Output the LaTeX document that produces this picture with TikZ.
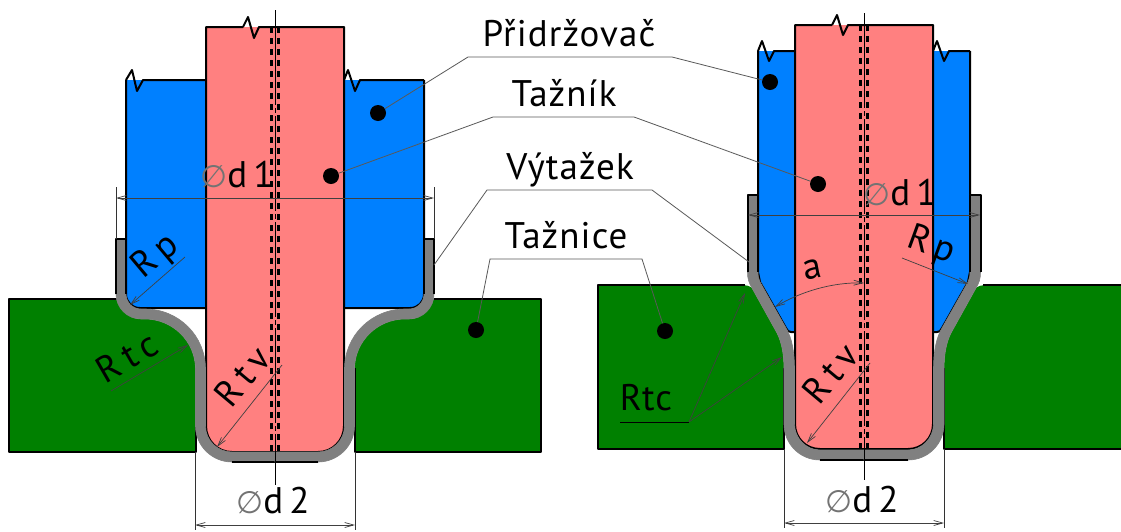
\documentclass[tikz,border=0pt]{standalone}
\usepackage{fontspec}
\setmainfont{PT Sans}[LetterSpace=3]
\newfontfamily\symfont{DejaVu Sans}
\usetikzlibrary{arrows.meta,positioning}
\definecolor{holderblue}{RGB}{0,128,255}
\definecolor{punchpink}{RGB}{255,128,128}
\definecolor{diegreen}{RGB}{0,128,0}
\definecolor{sheetgrey}{RGB}{128,128,128}
\newcommand{\dia}{{\color{black!55}\symfont\fontsize{31}{32}\selectfont ∅}}

\begin{document}
\begin{tikzpicture}[
    x=1pt, y=-1pt,
    txt/.style={font=\fontsize{37}{40}\selectfont, inner sep=0pt, anchor=base},
    rtxt/.style={font=\fontsize{37}{40}\selectfont, inner sep=0pt},
    tag/.style={circle, fill=black, minimum size=16pt, inner sep=0pt},
    leader/.style={draw=black!65, line width=0.8pt},
    dimline/.style={draw=black!75, line width=0.7pt, {Straight Barb[length=9pt,width=5pt]}-{Straight Barb[length=9pt,width=5pt]}},
    radline/.style={draw=black!75, line width=0.7pt, -{Straight Barb[length=9pt,width=5pt]}},
    extline/.style={draw=black!80, line width=0.7pt},
    outline/.style={draw=black, line width=2pt, line join=round},
    sheet/.style={fill=sheetgrey, draw=sheetgrey, line width=0.6pt},
    axisline/.style={draw=black, line width=0.7pt, dash pattern=on 95pt off 3pt on 5pt off 3pt},
    hiddenedge/.style={draw=black, line width=3pt, dash pattern=on 6pt off 5pt}
]
\clip (0,0) rectangle (1121,531);
\fill[white] (0,0) rectangle (1121,531);

% left tool: holder, die, both sides
\foreach \off/\sc in {0/1,550/-1} {
\begin{scope}[shift={(\off,0)}, xscale=\sc]
\fill[holderblue] (126,80) -- (206,80) -- (206,308) -- (140,308) .. controls (132,308) and (126,302) .. (126,294) -- cycle;
\draw[outline] (206,308) -- (140,308) .. controls (132,308) and (126,302) .. (126,294) -- (126,80);
\fill[diegreen] (9,299) -- (116.5,299) .. controls (120,310) and (130,319) .. (141,319) -- (145,319) .. controls (172.6,319) and (195.5,341.4) .. (195.5,369) -- (195.5,452) -- (9,452) -- cycle;
\draw[outline] (116.5,299) -- (9,299) -- (9,452) -- (195.5,452) -- (195.5,368);
\end{scope}
}
\draw[outline] (126,80) -- (132,70) -- (137,91) -- (143,80) -- (206,80);
\draw[outline] (344,80) -- (348,70) -- (355,91) -- (360,80) -- (424,80);

% left punch
\fill[punchpink] (206,27) -- (344,27) -- (344,426) .. controls (344,440.4) and (332.4,452) .. (318,452) -- (232,452) .. controls (217.6,452) and (206,440.4) .. (206,426) -- cycle;
\draw[outline] (243,27) -- (248,17) -- (254,38) -- (259,27) -- (344,27) -- (344,426) .. controls (344,440.4) and (332.4,452) .. (318,452) -- (232,452) .. controls (217.6,452) and (206,440.4) .. (206,426) -- (206,27) -- (243,27);

\foreach \off/\sc in {0/1,550/-1} {
\begin{scope}[shift={(\off,0)}, xscale=\sc]
\path[sheet] (116,239) -- (116,294) .. controls (116,307.8) and (127.2,319) .. (141,319) -- (145,319) .. controls (172.6,319) and (195.5,341.4) .. (195.5,369) -- (195.5,426) .. controls (195.5,445.9) and (212.1,462) .. (232,462) -- (275,462) -- (275,452) -- (232,452) .. controls (217.6,452) and (205.5,440.4) .. (205.5,426) -- (205.5,369) .. controls (205.5,335.6) and (178.4,309) .. (145,309) -- (141,309) .. controls (132.7,309) and (126,302.3) .. (126,294) -- (126,239) -- cycle;
\draw[outline] (116,294) -- (116,239) -- (126,239) -- (126,294);
\draw[outline] (232,462) -- (275,462);
\end{scope}
}

% right tool
\foreach \off/\sc in {0/1,1728/-1} {
\begin{scope}[shift={(\off,0)}, xscale=\sc]
\fill[holderblue] (758,51) -- (795,51) -- (795,332) -- (791,332) .. controls (789,332) and (787,331) .. (786,328) -- (758,276) -- cycle;
\draw[outline] (795,332) -- (791,332) .. controls (789,332) and (787,331) .. (786,328) -- (760,282) -- (758,272) -- (758,51);
\fill[diegreen] (598,285) -- (741,285) .. controls (746,285) and (750,286) .. (752,288) -- (777,333) .. controls (782,343) and (784,355) .. (784,370) -- (784,449) -- (598,449) -- cycle;
\draw[outline] (745,285) -- (598,285) -- (598,449) -- (784,449) -- (784,368);
\end{scope}
}
\draw[outline] (758,51) -- (762,41) -- (769,61) -- (774,51) -- (795,51);
\draw[outline] (933,51) -- (937,41) -- (944,61) -- (949,51) -- (970,51);

\fill[punchpink] (795,25) -- (933,25) -- (933,424) .. controls (933,438) and (922,449) .. (908,449) -- (820,449) .. controls (806,449) and (795,438) .. (795,424) -- cycle;
\draw[outline] (832,25) -- (837,15) -- (843,35) -- (848,25) -- (933,25) -- (933,424) .. controls (933,438) and (922,449) .. (908,449) -- (820,449) .. controls (806,449) and (795,438) .. (795,424) -- (795,25) -- (832,25);

\foreach \off/\sc in {0/1,1728/-1} {
\begin{scope}[shift={(\off,0)}, xscale=\sc]
\path[sheet] (747.5,195) -- (747.5,272) .. controls (747.5,279) and (749,283) .. (752,288) -- (777,333) .. controls (782,343) and (784,355) .. (784,370) -- (784,424) .. controls (784,444) and (800,460) .. (820,460) -- (864,460) -- (864,450) -- (820,450) .. controls (806,450) and (794.5,438) .. (794.5,424) -- (794.5,370) .. controls (794.5,352) and (792,338) .. (786,328) -- (760,282) .. controls (758.5,279) and (758,276) .. (758,272) -- (758,195) -- cycle;
\draw[outline] (747.5,272) -- (747.5,195) -- (758,195) -- (758,272);
\draw[outline] (820,460) -- (864,460);
\end{scope}
}

% hidden edges and axes
\foreach \xa/\ya/\yb in {271/27/452,278/27/452,860/25/449,867/25/449}
    \draw[hiddenedge] (\xa,\ya) -- (\xa,\yb);

\coordinate (axisAtop) at (275,10);
\coordinate (axisAbot) at (275,485);
\coordinate (axisBtop) at (864,13);
\coordinate (axisBbot) at (864,480);
\draw[axisline] (axisAtop) -- (axisAbot);
\draw[axisline] (axisBtop) -- (axisBbot);

% callouts
\node[tag] (dotHolderA) at (378,113) {};
\node[tag] (dotHolderB) at (770,82) {};
\node[tag] (dotPunchA) at (331,176) {};
\node[tag] (dotPunchB) at (818,184) {};
\node[tag] (dotDieA) at (476,330) {};
\node[tag] (dotDieB) at (665,331) {};

\node[txt] (holder) at (569,46) {Přidržovač};
\node[txt] (punch) at (564,106) {Tažník};
\node[txt] (cup) at (570,179) {Výtažek};
\node[txt] (die) at (566,248) {Tažnice};

\coordinate (holderL) at (468,57);
\coordinate (holderR) at (672,57);
\coordinate (punchL) at (493,117);
\coordinate (punchR) at (634,117);
\coordinate (cupL) at (487,190);
\coordinate (cupR) at (652,190);
\coordinate (cupEndA) at (434,265);
\coordinate (cupEndB) at (749,262);
\coordinate (dieL) at (490,259);
\coordinate (dieR) at (642,259);

\draw[leader] (dotHolderA) -- (holderL) -- (holderR) -- (dotHolderB);
\draw[leader] (dotPunchA) -- (punchL) -- (punchR) -- (dotPunchB);
\draw[leader] (cupEndA) -- (cupL) -- (cupR) -- (cupEndB);
\draw[leader] (dotDieA) -- (dieL) -- (dieR) -- (dotDieB);

% dimensions, left
\coordinate (d1aL) at (116,198);
\coordinate (d1aR) at (434,198);
\coordinate (d1aLtop) at (116,187);
\coordinate (d1aRtop) at (434,187);
\coordinate (d1aLbot) at (116,239);
\coordinate (d1aRbot) at (434,239);
\draw[extline] (d1aLtop) -- (d1aLbot);
\draw[extline] (d1aRtop) -- (d1aRbot);
\draw[dimline] (d1aL) -- (d1aR);
\node[txt] (d1a) at (237,187) {\dia d\,1};

\coordinate (d2aL) at (195,525);
\coordinate (d2aR) at (355,525);
\coordinate (d2aLtop) at (195,452);
\coordinate (d2aRtop) at (355,452);
\coordinate (d2aLbot) at (195,530);
\coordinate (d2aRbot) at (355,530);
\draw[extline] (d2aLtop) -- (d2aLbot);
\draw[extline] (d2aRtop) -- (d2aRbot);
\draw[dimline] (d2aL) -- (d2aR);
\node[txt] (d2a) at (273,513) {\dia d\,2};

\coordinate (rpaS) at (185,257);
\coordinate (rpaE) at (130,305);
\draw[radline] (rpaS) -- (rpaE);
\node[rtxt, rotate=40] (rpa) at (156,257) {R\,p};
\coordinate (rtcaS) at (111,391);
\coordinate (rtcaE) at (188,345);
\draw[radline] (rtcaS) -- (rtcaE);
\node[rtxt, rotate=30] (rtca) at (127,357) {R\,t\,c};
\coordinate (rtvaS) at (282,365);
\coordinate (rtvaE) at (217,447);
\draw[radline] (rtvaS) -- (rtvaE);
\node[rtxt, rotate=50] (rtva) at (242,376) {R\,t\,v};

% dimensions, right
\coordinate (d1bL) at (748,215);
\coordinate (d1bR) at (980,215);
\draw[dimline] (d1bL) -- (d1bR);
\node[txt] (d1b) at (900,205) {\dia d\,1};

\coordinate (d2bL) at (784,523);
\coordinate (d2bR) at (944,523);
\coordinate (d2bLtop) at (784,449);
\coordinate (d2bRtop) at (944,449);
\coordinate (d2bLbot) at (784,528);
\coordinate (d2bRbot) at (944,528);
\draw[extline] (d2bLtop) -- (d2bLbot);
\draw[extline] (d2bRtop) -- (d2bRbot);
\draw[dimline] (d2bL) -- (d2bR);
\node[txt] (d2b) at (862,512) {\dia d\,2};

\coordinate (rpbS) at (902,258);
\coordinate (rpbE) at (968,284);
\draw[radline] (rpbS) -- (rpbE);
\node[rtxt, rotate=-20] (rpb) at (931,246) {R\,p};
\coordinate (rtvbS) at (870,363);
\coordinate (rtvbE) at (807,443);
\draw[radline] (rtvbS) -- (rtvbE);
\node[rtxt, rotate=50] (rtvb) at (830,373) {R\,t\,v};

\node[txt] (rtcb) at (646,410) {Rtc};
\coordinate (rtcbS) at (620,422);
\coordinate (rtcbJ) at (689,422);
\coordinate (rtcbE) at (745,293);
\coordinate (rtcbF) at (782,357);
\draw[leader, draw=black] (rtcbS) -- (rtcbJ);
\draw[radline] (rtcbJ) -- (rtcbE);
\draw[radline] (rtcbJ) -- (rtcbF);

\coordinate (angS) at (775,307);
\coordinate (angE) at (864,283);
\draw[dimline] (angS) .. controls (800,292) and (832,282) .. (angE);
\node[rtxt, rotate=12] (ang) at (813,270) {a};

\end{tikzpicture}
\end{document}
